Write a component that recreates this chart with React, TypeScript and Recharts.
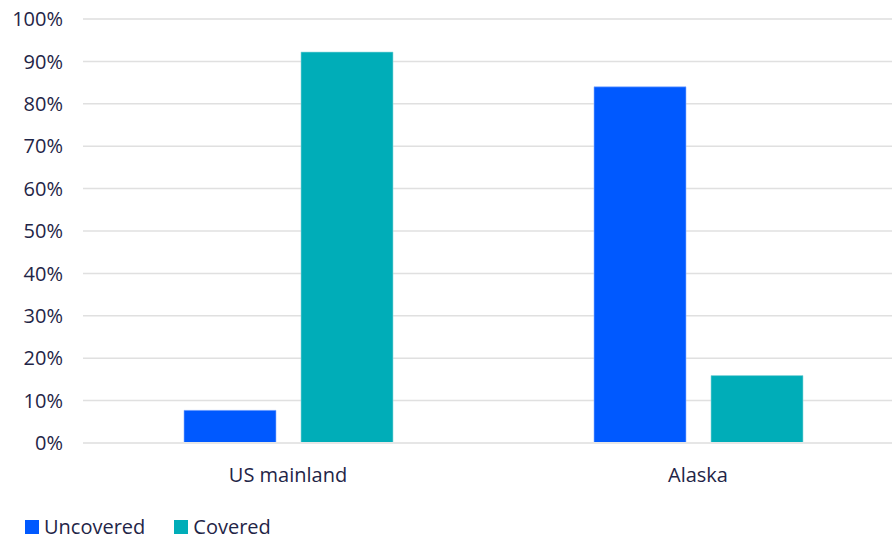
import { BarChart, Bar, XAxis, YAxis, CartesianGrid, ReferenceLine } from "recharts";

const CATEGORIES = ["US mainland", "Alaska"];
const UNCOVERED = [7.7, 84.0];
const COVERED = [92.2, 15.9];
const Y_TICKS = [0, 10, 20, 30, 40, 50, 60, 70, 80, 90, 100];

const BLUE = "#0059ff";
const TEAL = "#00adb8";
const TEXT = "#1f2547";
const FONT = "'Open Sans', sans-serif";

const data = CATEGORIES.map((name, i) => ({
  name,
  uncovered: UNCOVERED[i],
  covered: COVERED[i],
}));

const legendItems = [
  { label: "Uncovered", color: BLUE },
  { label: "Covered", color: TEAL },
];

export default function App() {
  return (
    <div
      style={{
        position: "absolute",
        left: 0,
        top: 0,
        width: 892,
        height: 539,
        overflow: "hidden",
        background: "#fff",
        fontFamily: FONT,
      }}
    >
      <BarChart
        width={903}
        height={539}
        data={data}
        margin={{ top: 19, right: 0, left: 0, bottom: 55 }}
        barSize={92}
        barGap={25}
      >
        <CartesianGrid vertical={false} stroke="#e0e0e0" strokeWidth={1.5} />
        <XAxis
          dataKey="name"
          axisLine={{ stroke: "#e6e6e6", strokeWidth: 2 }}
          tickLine={false}
          tick={{ fill: TEXT, fontSize: 20, fontFamily: FONT }}
          tickMargin={19}
          height={41}
        />
        <YAxis
          domain={[0, 100]}
          ticks={Y_TICKS}
          width={83}
          axisLine={false}
          tickLine={false}
          tickSize={0}
          tickMargin={20}
          tickFormatter={(v) => `${v}%`}
          tick={{ fill: TEXT, fontSize: 20, fontFamily: FONT }}
        />
        <ReferenceLine y={100} stroke="#e6e6e6" strokeWidth={2} />
        <Bar dataKey="uncovered" fill={BLUE} stroke="#8fb3ff" strokeWidth={0.6} isAnimationActive={false} />
        <Bar dataKey="covered" fill={TEAL} stroke="#8fd8dc" strokeWidth={0.6} isAnimationActive={false} />
      </BarChart>
      <div
        style={{
          position: "absolute",
          left: 25,
          top: 513,
          display: "flex",
          alignItems: "center",
          fontSize: 20,
          color: TEXT,
          lineHeight: "28px",
        }}
      >
        {legendItems.map((item) => (
          <div key={item.label} style={{ display: "flex", alignItems: "center", marginRight: 29 }}>
            <span style={{ width: 14, height: 14, background: item.color, display: "inline-block", marginRight: 5 }} />
            <span>{item.label}</span>
          </div>
        ))}
      </div>
    </div>
  );
}
